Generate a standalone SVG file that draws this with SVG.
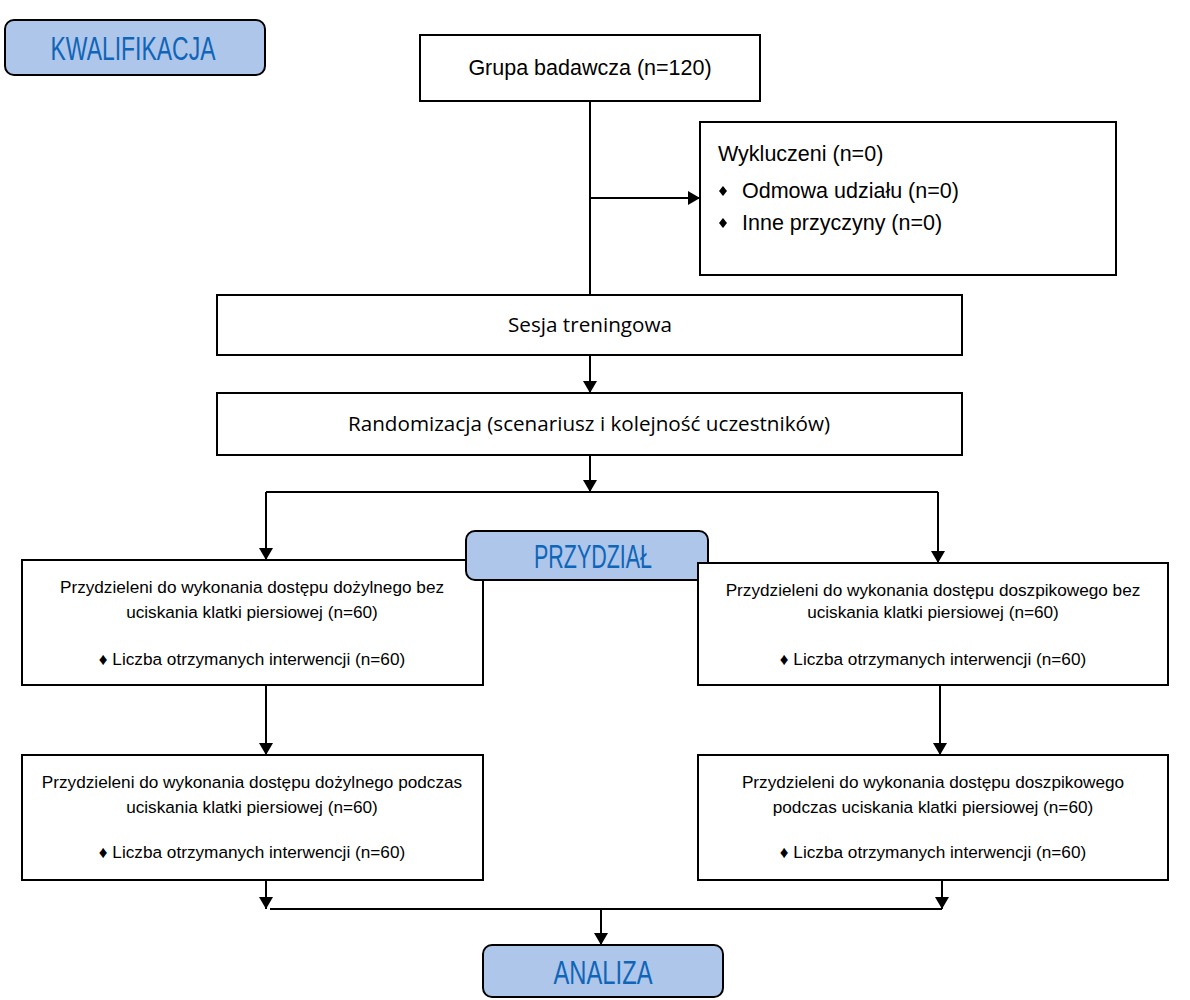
<svg xmlns="http://www.w3.org/2000/svg" width="1190" height="1000" viewBox="0 0 1190 1000">
<style>
.box{fill:#fff;stroke:#000;stroke-width:2}
.hdr{fill:#aec6ea;stroke:#000;stroke-width:2}
.ht{font-family:"Liberation Sans",Arial,sans-serif;font-size:34px;fill:#0f65b8;text-anchor:middle}
.t20{font-family:"Liberation Sans",Arial,sans-serif;font-size:21.5px;fill:#000}
.tc{font-family:"Open Sans","Noto Sans",sans-serif;font-size:20px;fill:#000;text-anchor:middle}
.t16{font-family:"Liberation Sans",Arial,sans-serif;font-size:17.2px;fill:#000;text-anchor:middle}
.ln{fill:none;stroke:#000;stroke-width:2}
</style>
<defs>
<marker id="ah" markerWidth="12" markerHeight="14" refX="12" refY="7" orient="auto" markerUnits="userSpaceOnUse">
<path d="M0,0 L12,7 L0,14 Z" fill="#000"/>
</marker>
</defs>
<rect width="1190" height="1000" fill="#fff"/>
<g id="connectors">
<path class="ln" d="M590,101 V295"/>
<path class="ln" d="M590,198 H700" marker-end="url(#ah)"/>
<path class="ln" d="M590,355 V393" marker-end="url(#ah)"/>
<path class="ln" d="M590,455 V492" marker-end="url(#ah)"/>
<path class="ln" d="M266,492 H938"/>
<path class="ln" d="M266,492 V560" marker-end="url(#ah)"/>
<path class="ln" d="M938,492 V563" marker-end="url(#ah)"/>
<path class="ln" d="M266,685 V755" marker-end="url(#ah)"/>
<path class="ln" d="M940,685 V755" marker-end="url(#ah)"/>
<path class="ln" d="M266,880 V909" marker-end="url(#ah)"/>
<path class="ln" d="M942,880 V909" marker-end="url(#ah)"/>
<path class="ln" d="M270,909 H942"/>
<path class="ln" d="M601,909 V945" marker-end="url(#ah)"/>
</g>
<g id="kwalifikacja">
<rect class="hdr" x="5" y="20" width="260" height="55" rx="9"/>
<text class="ht" x="133" y="60" textLength="165" lengthAdjust="spacingAndGlyphs">KWALIFIKACJA</text>
</g>
<g id="grupa">
<rect class="box" x="420" y="35" width="340" height="66"/>
<text class="t20" x="590" y="75" text-anchor="middle">Grupa badawcza (n=120)</text>
</g>
<g id="wykluczeni">
<rect class="box" x="700" y="122" width="416" height="153"/>
<text class="t20" x="718" y="161">Wykluczeni (n=0)</text>
<path d="M723,186 l4,5 l-4,5 l-4,-5 Z" fill="#000"/>
<text class="t20" x="742" y="198">Odmowa udziału (n=0)</text>
<path d="M723,218 l4,5 l-4,5 l-4,-5 Z" fill="#000"/>
<text class="t20" x="742" y="230">Inne przyczyny (n=0)</text>
</g>
<g id="sesja">
<rect class="box" x="217" y="295" width="745" height="60"/>
<text class="tc" x="590" y="332" textLength="164" lengthAdjust="spacingAndGlyphs">Sesja treningowa</text>
</g>
<g id="randomizacja">
<rect class="box" x="217" y="393" width="745" height="62"/>
<text class="tc" x="589" y="431" textLength="482" lengthAdjust="spacingAndGlyphs">Randomizacja (scenariusz i kolejność uczestników)</text>
</g>
<g id="box-l1">
<rect class="box" x="22" y="560" width="461" height="125"/>
<text class="t16" x="252" y="593">Przydzieleni do wykonania dostępu dożylnego bez</text>
<text class="t16" x="252" y="618">uciskania klatki piersiowej (n=60)</text>
<text class="t16" x="252" y="665">♦ Liczba otrzymanych interwencji (n=60)</text>
</g>
<g id="przydzial">
<rect class="hdr" x="466" y="531" width="242" height="49" rx="9"/>
<text class="ht" x="593" y="568" textLength="118" lengthAdjust="spacingAndGlyphs">PRZYDZIAŁ</text>
</g>
<g id="box-r1">
<rect class="box" x="698" y="563" width="470" height="122"/>
<text class="t16" x="933" y="596">Przydzieleni do wykonania dostępu doszpikowego bez</text>
<text class="t16" x="933" y="618">uciskania klatki piersiowej (n=60)</text>
<text class="t16" x="933" y="665">♦ Liczba otrzymanych interwencji (n=60)</text>
</g>
<g id="box-l2">
<rect class="box" x="22" y="755" width="461" height="125"/>
<text class="t16" x="252" y="788">Przydzieleni do wykonania dostępu dożylnego podczas</text>
<text class="t16" x="252" y="813">uciskania klatki piersiowej (n=60)</text>
<text class="t16" x="252" y="858">♦ Liczba otrzymanych interwencji (n=60)</text>
</g>
<g id="box-r2">
<rect class="box" x="698" y="755" width="470" height="125"/>
<text class="t16" x="933" y="788">Przydzieleni do wykonania dostępu doszpikowego</text>
<text class="t16" x="933" y="813">podczas uciskania klatki piersiowej (n=60)</text>
<text class="t16" x="933" y="858">♦ Liczba otrzymanych interwencji (n=60)</text>
</g>
<g id="analiza">
<rect class="hdr" x="483" y="945" width="240" height="52" rx="9"/>
<text class="ht" x="603" y="984" textLength="99" lengthAdjust="spacingAndGlyphs">ANALIZA</text>
</g>
</svg>
